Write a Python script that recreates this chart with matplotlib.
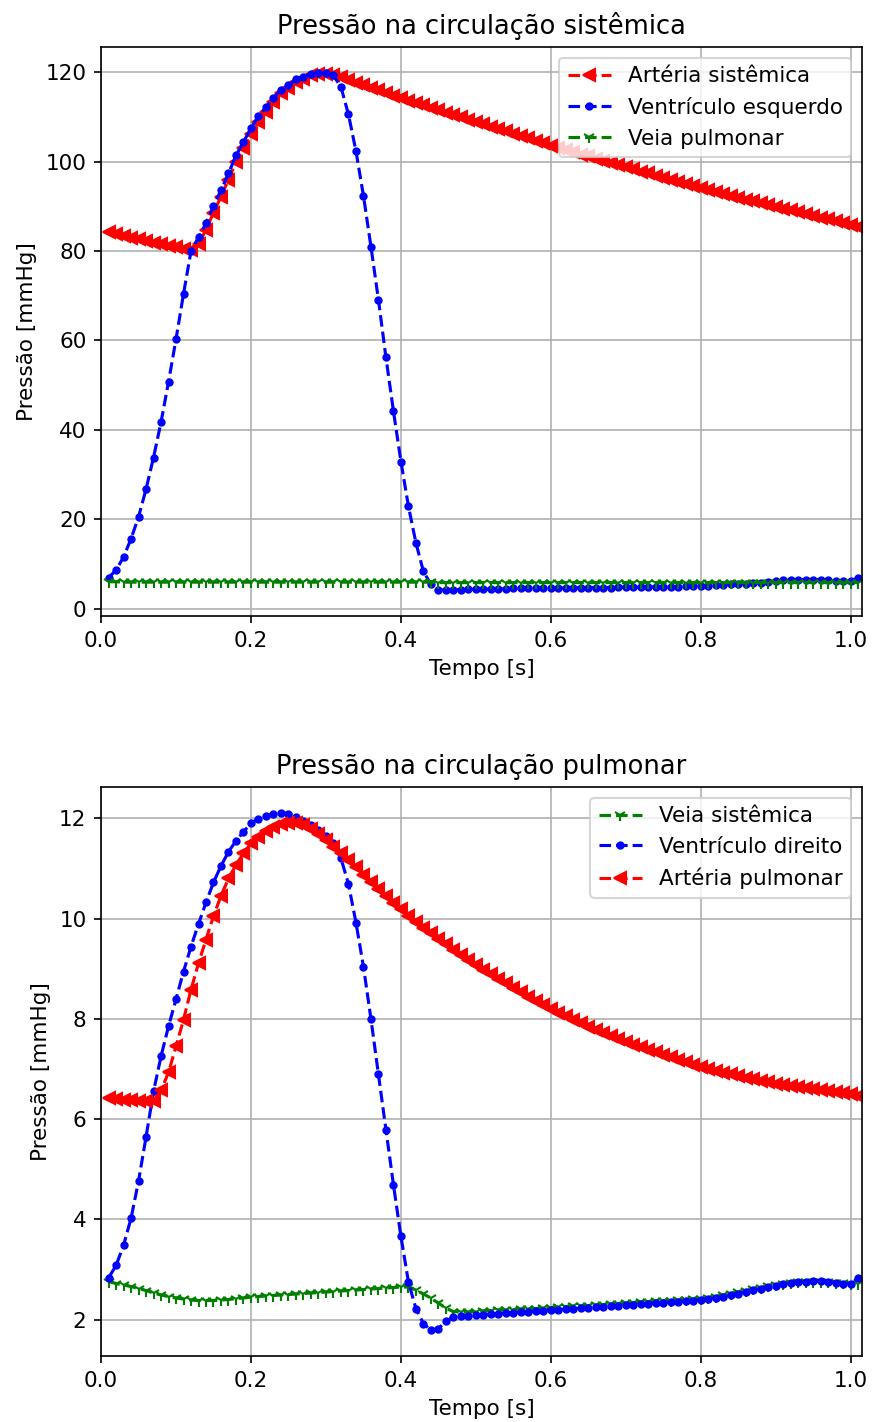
import numpy as np
import matplotlib
matplotlib.use('Agg')
import matplotlib.pyplot as plt

plt.rcParams['font.size'] = 10.3

# time axis, one sample every 0.01 s
t = np.round(np.arange(1, 102) * 0.01, 2)

# circulação sistêmica [mmHg]
art_sistemica = [
    84.2, 83.8, 83.4, 83.0, 82.6, 82.3, 81.9, 81.6, 81.2, 80.9, 80.5, 80.2,
    81.5, 84.8, 88.6, 92.2, 96.0, 99.9, 103.0, 106.2, 109.0, 111.2, 113.4, 115.3,
    116.6, 117.8, 118.6, 119.3, 119.6, 119.7, 119.5,
    118.9, 118.3, 117.7, 117.2, 116.6, 116.0, 115.4, 114.8, 114.2,
    113.7, 113.1, 112.6, 112.1, 111.5, 111.0, 110.5, 109.9, 109.4, 108.9,
    108.4, 107.8, 107.3, 106.8, 106.3, 105.7, 105.2, 104.7, 104.2, 103.6,
    103.1, 102.6, 102.1, 101.6, 101.2, 100.7, 100.2, 99.7, 99.2, 98.8,
    98.3, 97.8, 97.4, 96.9, 96.4, 96.0, 95.5, 95.0, 94.5, 94.1,
    93.6, 93.2, 92.8, 92.4, 91.9, 91.5, 91.1, 90.7, 90.3, 89.9,
    89.5, 89.1, 88.7, 88.3, 87.9, 87.5, 87.1, 86.7, 86.3, 85.9, 85.5]
vent_esquerdo = [
    6.9, 8.6, 11.5, 15.6, 20.5, 26.7, 33.8, 41.7, 50.7, 60.3,
    70.4, 80.0, 83.1, 86.2, 90.1, 93.6, 97.4, 101.4, 104.4, 107.5,
    110.2, 112.2, 114.3, 116.1, 117.2, 118.4, 119.0, 119.7, 119.9, 119.8,
    119.3, 116.7, 110.6, 102.4, 92.4, 81.0, 69.1, 56.2, 44.2, 32.9,
    22.9, 14.7, 8.3, 5.4, 4.2, 4.1, 4.2, 4.2, 4.3, 4.3,
    4.3, 4.4, 4.4, 4.4, 4.5, 4.5, 4.5, 4.5, 4.6, 4.6,
    4.6, 4.6, 4.6, 4.7, 4.7, 4.7, 4.7, 4.7, 4.8, 4.8,
    4.8, 4.8, 4.8, 4.9, 4.9, 4.9, 4.9, 5.0, 5.0, 5.0,
    5.1, 5.2, 5.3, 5.4, 5.5, 5.6, 5.7, 5.8, 6.0, 6.1,
    6.3, 6.4, 6.5, 6.5, 6.5, 6.5, 6.3, 6.2, 6.1, 6.1, 6.9]
veia_pulmonar = [
    6.0, 6.0, 5.9, 5.9, 5.9, 5.9, 5.9, 5.9, 5.9, 5.9,
    5.9, 5.9, 5.9, 5.9, 5.9, 5.9, 5.9, 5.9, 5.9, 5.9,
    5.9, 5.9, 5.9, 5.9, 5.9, 5.9, 5.9, 5.9, 5.9, 5.9,
    5.9, 5.9, 5.9, 5.9, 5.9, 5.9, 5.9, 5.9, 5.9, 5.9,
    5.9, 5.9, 5.9, 5.9, 5.8, 5.8, 5.8, 5.8, 5.8, 5.8,
    5.8, 5.8, 5.8, 5.8, 5.8, 5.8, 5.8, 5.8, 5.8, 5.8,
    5.8, 5.8, 5.8, 5.8, 5.8, 5.8, 5.8, 5.8, 5.8, 5.8,
    5.8, 5.8, 5.8, 5.8, 5.8, 5.8, 5.8, 5.8, 5.8, 5.8,
    5.8, 5.8, 5.8, 5.8, 5.8, 5.8, 5.8, 5.8, 5.8, 5.8,
    5.8, 5.8, 5.8, 5.8, 5.8, 5.8, 5.8, 5.8, 5.8, 5.8, 5.8]

# circulação pulmonar [mmHg]
veia_sistemica = [
    2.76, 2.72, 2.69, 2.66, 2.62, 2.58, 2.53, 2.49, 2.46, 2.43,
    2.41, 2.39, 2.38, 2.38, 2.38, 2.39, 2.40, 2.42, 2.43, 2.45,
    2.46, 2.47, 2.48, 2.49, 2.50, 2.51, 2.52, 2.53, 2.54, 2.55,
    2.56, 2.57, 2.58, 2.59, 2.60, 2.61, 2.62, 2.63, 2.64, 2.65,
    2.65, 2.59, 2.51, 2.43, 2.33, 2.23, 2.16, 2.15, 2.15, 2.16,
    2.17, 2.18, 2.19, 2.19, 2.20, 2.21, 2.22, 2.22, 2.23, 2.24,
    2.25, 2.26, 2.27, 2.27, 2.28, 2.29, 2.30, 2.31, 2.32, 2.33,
    2.34, 2.35, 2.36, 2.37, 2.38, 2.38, 2.39, 2.40, 2.41, 2.42,
    2.44, 2.46, 2.49, 2.52, 2.55, 2.58, 2.61, 2.64, 2.67, 2.70,
    2.72, 2.74, 2.75, 2.76, 2.76, 2.76, 2.75, 2.74, 2.73, 2.72, 2.71]
vent_direito = [
    2.83, 3.08, 3.48, 4.02, 4.76, 5.64, 6.55, 7.25, 7.85, 8.39,
    8.94, 9.44, 9.89, 10.32, 10.72, 11.05, 11.33, 11.55, 11.73, 11.90,
    11.99, 12.05, 12.09, 12.11, 12.09, 12.03, 11.95, 11.86, 11.76, 11.65,
    11.50, 11.20, 10.69, 9.92, 9.04, 8.00, 6.89, 5.79, 4.69, 3.66,
    2.75, 2.22, 1.92, 1.79, 1.82, 1.97, 2.05, 2.07, 2.08, 2.09,
    2.10, 2.11, 2.12, 2.13, 2.14, 2.15, 2.16, 2.17, 2.18, 2.19,
    2.20, 2.21, 2.22, 2.23, 2.24, 2.25, 2.26, 2.27, 2.28, 2.29,
    2.30, 2.31, 2.32, 2.33, 2.34, 2.35, 2.36, 2.37, 2.38, 2.39,
    2.41, 2.43, 2.46, 2.49, 2.52, 2.56, 2.59, 2.62, 2.65, 2.68,
    2.71, 2.73, 2.75, 2.76, 2.77, 2.77, 2.76, 2.74, 2.72, 2.71, 2.84]
art_pulmonar = [
    6.42, 6.40, 6.39, 6.38, 6.37, 6.36, 6.36, 6.57, 6.93, 7.45,
    7.98, 8.58, 9.11, 9.58, 10.05, 10.45, 10.80, 11.07, 11.30, 11.50,
    11.63, 11.75, 11.83, 11.88, 11.90, 11.90, 11.86, 11.79, 11.68, 11.57,
    11.43, 11.30, 11.17, 11.02, 10.87, 10.72, 10.58, 10.44, 10.31, 10.19,
    10.06, 9.94, 9.82, 9.71, 9.60, 9.49, 9.38, 9.28, 9.18, 9.08,
    8.98, 8.89, 8.80, 8.71, 8.62, 8.53, 8.44, 8.35, 8.27, 8.19,
    8.12, 8.05, 7.98, 7.91, 7.84, 7.77, 7.71, 7.65, 7.59, 7.53,
    7.48, 7.43, 7.38, 7.33, 7.28, 7.23, 7.18, 7.13, 7.08, 7.04,
    7.00, 6.96, 6.92, 6.89, 6.85, 6.82, 6.79, 6.76, 6.73, 6.70,
    6.68, 6.65, 6.63, 6.61, 6.59, 6.57, 6.55, 6.53, 6.51, 6.49, 6.47]

fig, (ax1, ax2) = plt.subplots(2, 1, figsize=(874 / 150, 1422 / 150), dpi=150)
fig.subplots_adjust(left=0.1156, right=0.9863, top=0.967, bottom=0.0464, hspace=0.30)

ax1.plot(t, art_sistemica, 'r--<', label='Artéria sistêmica')
ax1.plot(t, vent_esquerdo, 'b--.', label='Ventrículo esquerdo')
ax1.plot(t, veia_pulmonar, 'g--1', label='Veia pulmonar')
ax1.set_title('Pressão na circulação sistêmica')
ax1.set_xlabel('Tempo [s]')
ax1.set_ylabel('Pressão [mmHg]')
ax1.set_xlim(0, 1.015)
ax1.legend(loc='upper right')
ax1.grid(True)

ax2.plot(t, veia_sistemica, 'g--1', label='Veia sistêmica')
ax2.plot(t, vent_direito, 'b--.', label='Ventrículo direito')
ax2.plot(t, art_pulmonar, 'r--<', label='Artéria pulmonar')
ax2.set_title('Pressão na circulação pulmonar')
ax2.set_xlabel('Tempo [s]')
ax2.set_ylabel('Pressão [mmHg]')
ax2.set_xlim(0, 1.015)
ax2.legend(loc='upper right')
ax2.grid(True)

fig.savefig('out.png', dpi=150)
